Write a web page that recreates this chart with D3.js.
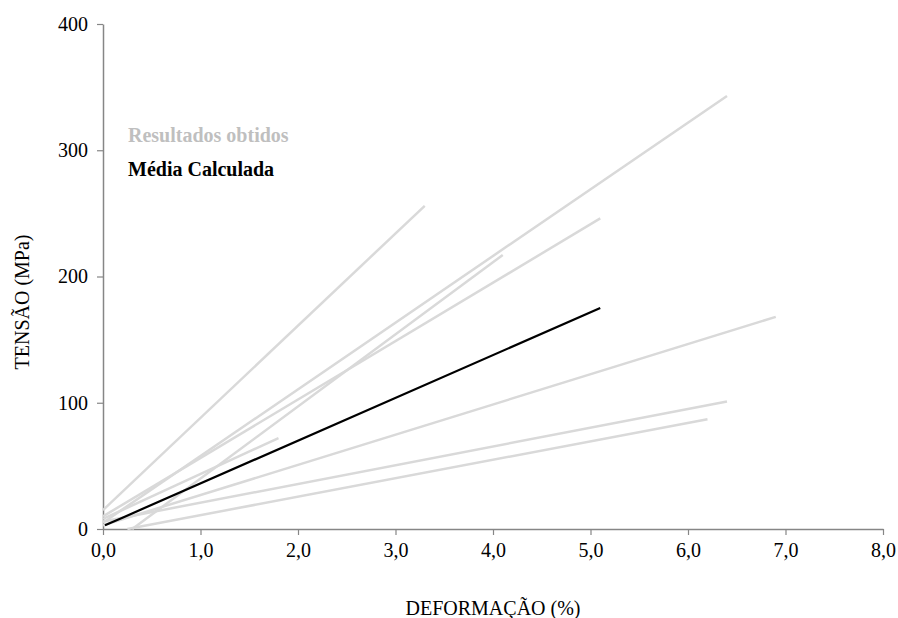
<!DOCTYPE html>
<html>
<head>
<meta charset="utf-8">
<script src="https://cdn.jsdelivr.net/npm/d3@7"></script>
<style>
body { margin: 0; background: #fff; }
text { font-family: "Liberation Serif", Times, serif; }
</style>
</head>
<body>
<div id="chart"></div>
<script>
// ensaios individuais (deformação %, tensão MPa)
var resultados = [
	[[0, 15], [3.3, 256]],
	[[0, 5], [6.4, 343]],
	[[0, 10], [5.1, 246]],
	[[0.3, 0], [4.1, 217]],
	[[0, 8], [1.8, 72]],
	[[0, 3], [6.9, 168]],
	[[0, 6], [6.4, 101]],
	[[0.25, 0], [6.2, 87]]
]
var media = [[0.02, 3], [0.2, 9], [5.1, 175]]
var xTicks = [0, 1, 2, 3, 4, 5, 6, 7, 8]
var yTicks = [0, 100, 200, 300, 400]

var width = 898, height = 618
var svg = d3.select('#chart').append('svg')
	.attr('width', width).attr('height', height)

var x = d3.scaleLinear().domain([0, 8]).range([103, 883])
var y = d3.scaleLinear().domain([0, 400]).range([529, 24])

var line = d3.line().x(function(d) { return x(d[0]) }).y(function(d) { return y(d[1]) })

var xAxis = svg.append('g').attr('transform', 'translate(0,' + y(0) + ')')
	.call(d3.axisBottom(x).tickValues(xTicks).tickSize(6).tickSizeOuter(0)
		.tickFormat(function(d) { return d3.format('.1f')(d).replace('.', ',') }))
var yAxis = svg.append('g').attr('transform', 'translate(' + x(0) + ',0)')
	.call(d3.axisLeft(y).tickValues(yTicks).tickSize(6).tickSizeOuter(0))

svg.selectAll('g').attr('font-family', null)
svg.selectAll('.domain').attr('stroke', '#868686').attr('stroke-width', 1.5)
svg.selectAll('.tick line').attr('stroke', '#868686').attr('stroke-width', 1.2)
svg.selectAll('.tick text').attr('fill', '#000').style('font-size', '20px')
xAxis.selectAll('.tick text').attr('y', 14).attr('dy', '0.71em')
yAxis.selectAll('.tick text').attr('x', -15)

svg.append('g').selectAll('path').data(resultados).enter().append('path')
	.attr('d', line).attr('fill', 'none')
	.attr('stroke', '#d9d9d9').attr('stroke-width', 2.5)

svg.append('path').datum(media).attr('d', line).attr('fill', 'none')
	.attr('stroke', '#000').attr('stroke-width', 2.2)

svg.append('text').attr('x', 128).attr('y', 142).text('Resultados obtidos')
	.attr('fill', '#bfbfbf').style('font-weight', 'bold').style('font-size', '20px')
svg.append('text').attr('x', 128).attr('y', 176).text('Média Calculada')
	.attr('fill', '#000').style('font-weight', 'bold').style('font-size', '20px')

svg.append('text').attr('x', 493).attr('y', 615).attr('text-anchor', 'middle')
	.text('DEFORMAÇÃO (%)').style('font-size', '20px')
svg.append('text').attr('transform', 'translate(29,' + 302 + ') rotate(-90)')
	.attr('text-anchor', 'middle').text('TENSÃO (MPa)').style('font-size', '20px')
</script>
</body>
</html>
